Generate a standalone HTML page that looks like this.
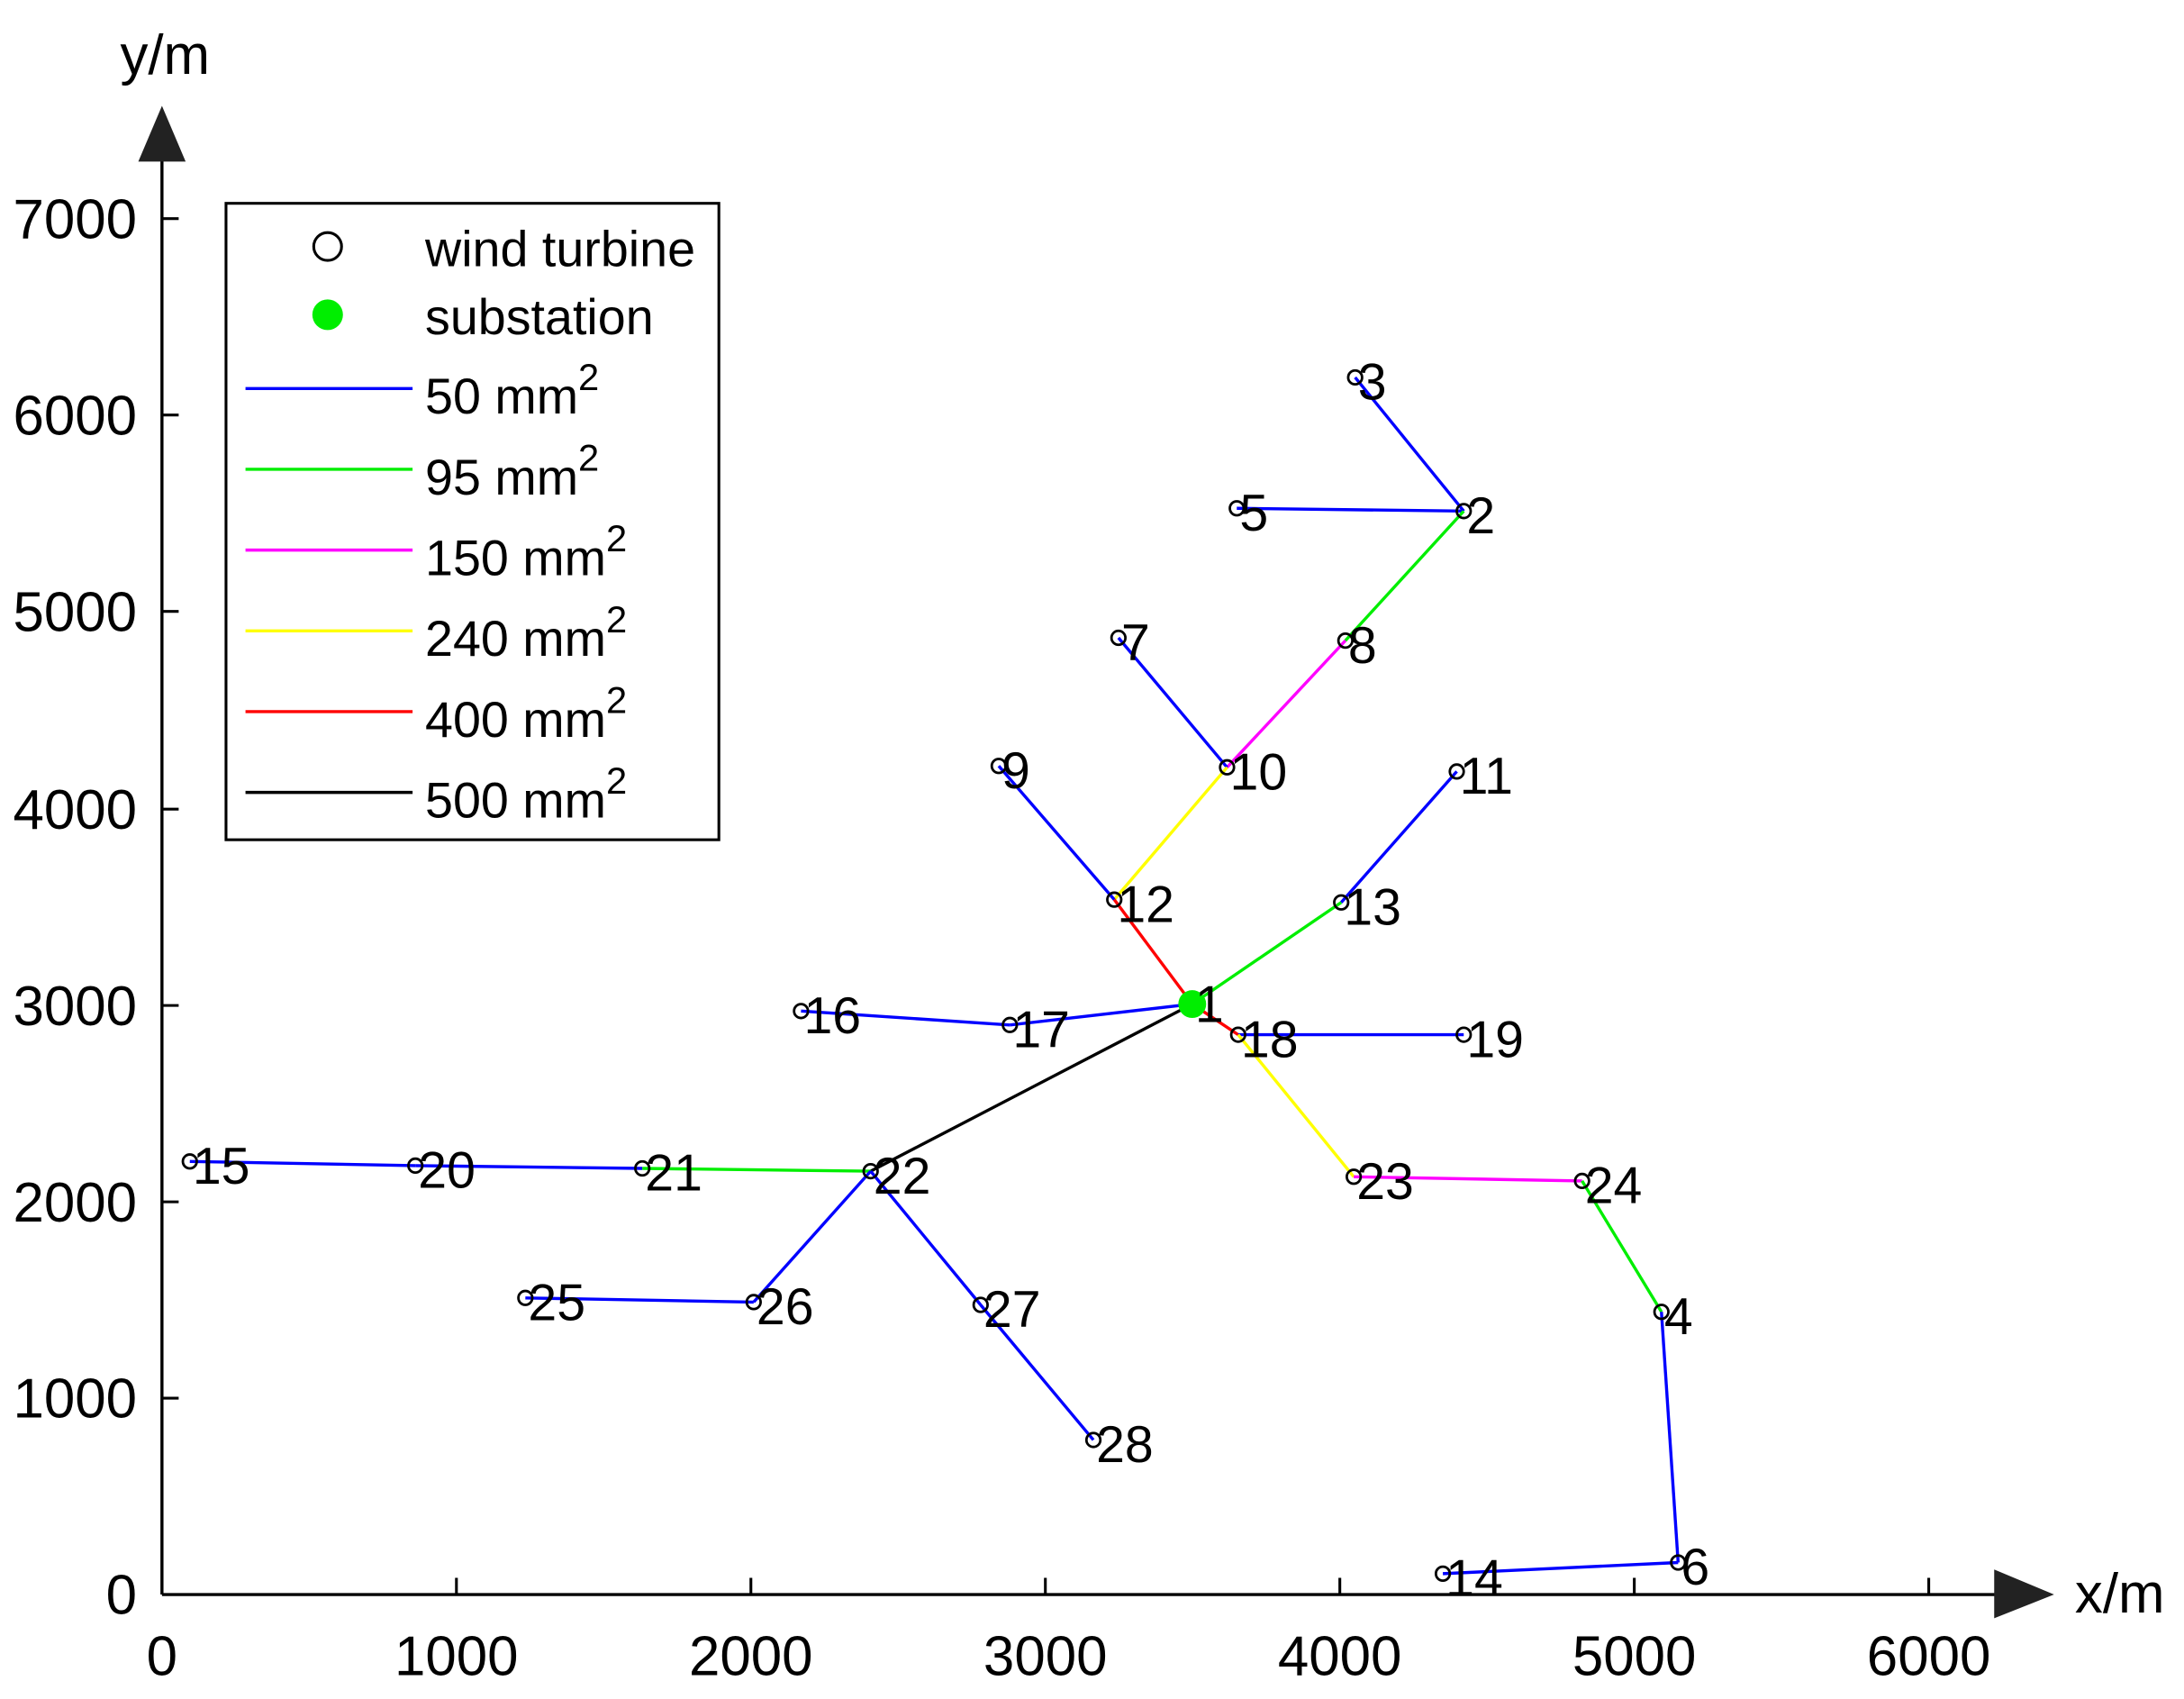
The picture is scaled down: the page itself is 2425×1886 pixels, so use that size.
<!DOCTYPE html>
<html><head><meta charset="utf-8"><style>
html,body{margin:0;padding:0;background:#fff;}
svg{display:block;}
text{font-family:"Liberation Sans",Arial,sans-serif;fill:#000;}
</style></head><body>
<svg width="2425" height="1886" viewBox="0 0 1568 1220" xmlns="http://www.w3.org/2000/svg">
<rect width="1568" height="1220" fill="#fff"/>
<line x1="116" y1="1145" x2="1436" y2="1145" stroke="#000" stroke-width="2.2"/>
<line x1="116" y1="1145" x2="116" y2="112" stroke="#000" stroke-width="2.2"/>
<polygon points="99,116 133,116 116,76" fill="#222"/>
<polygon points="1432,1127 1432,1162 1475,1145" fill="#222"/>
<g stroke="#000" stroke-width="2">
<line x1="327.5" y1="1145" x2="327.5" y2="1133"/>
<line x1="539" y1="1145" x2="539" y2="1133"/>
<line x1="750.5" y1="1145" x2="750.5" y2="1133"/>
<line x1="962" y1="1145" x2="962" y2="1133"/>
<line x1="1173.5" y1="1145" x2="1173.5" y2="1133"/>
<line x1="1385" y1="1145" x2="1385" y2="1133"/>
<line x1="116" y1="1004" x2="128" y2="1004"/>
<line x1="116" y1="863" x2="128" y2="863"/>
<line x1="116" y1="722" x2="128" y2="722"/>
<line x1="116" y1="581" x2="128" y2="581"/>
<line x1="116" y1="439" x2="128" y2="439"/>
<line x1="116" y1="298" x2="128" y2="298"/>
<line x1="116" y1="157" x2="128" y2="157"/>
</g>
<g font-size="40" text-anchor="middle">
<text x="116" y="1203">0</text>
<text x="327.5" y="1203">1000</text>
<text x="539" y="1203">2000</text>
<text x="750.5" y="1203">3000</text>
<text x="962" y="1203">4000</text>
<text x="1173.5" y="1203">5000</text>
<text x="1385" y="1203">6000</text>
</g>
<g font-size="40" text-anchor="end">
<text x="98" y="1159">0</text>
<text x="98" y="1018">1000</text>
<text x="98" y="877">2000</text>
<text x="98" y="736">3000</text>
<text x="98" y="595">4000</text>
<text x="98" y="453">5000</text>
<text x="98" y="312">6000</text>
<text x="98" y="171">7000</text>
</g>
<text x="86" y="53" font-size="40">y/m</text>
<text x="1490" y="1158" font-size="40">x/m</text>
<g stroke-width="2.2" fill="none">
<line x1="973" y1="271" x2="1051" y2="367" stroke="#0000ff"/>
<line x1="888" y1="365" x2="1051" y2="367" stroke="#0000ff"/>
<line x1="1051" y1="367" x2="966" y2="460" stroke="#00ee00"/>
<line x1="966" y1="460" x2="881" y2="551" stroke="#ff00ff"/>
<line x1="803" y1="458" x2="881" y2="551" stroke="#0000ff"/>
<line x1="881" y1="551" x2="800" y2="646" stroke="#ffff00"/>
<line x1="717" y1="550" x2="800" y2="646" stroke="#0000ff"/>
<line x1="800" y1="646" x2="856" y2="721" stroke="#ff0000"/>
<line x1="1046" y1="554" x2="963" y2="648" stroke="#0000ff"/>
<line x1="963" y1="648" x2="856" y2="721" stroke="#00ee00"/>
<line x1="575" y1="726" x2="725" y2="736" stroke="#0000ff"/>
<line x1="725" y1="736" x2="856" y2="721" stroke="#0000ff"/>
<line x1="856" y1="721" x2="889" y2="743" stroke="#ff0000"/>
<line x1="889" y1="743" x2="1051" y2="743" stroke="#0000ff"/>
<line x1="889" y1="743" x2="972" y2="845" stroke="#ffff00"/>
<line x1="972" y1="845" x2="1136" y2="848" stroke="#ff00ff"/>
<line x1="1136" y1="848" x2="1193" y2="942" stroke="#00ee00"/>
<line x1="1193" y1="942" x2="1205" y2="1122" stroke="#0000ff"/>
<line x1="1205" y1="1122" x2="1036" y2="1130" stroke="#0000ff"/>
<line x1="856" y1="721" x2="625" y2="841" stroke="#000"/>
<line x1="136" y1="834" x2="298" y2="837" stroke="#0000ff"/>
<line x1="298" y1="837" x2="461" y2="839" stroke="#0000ff"/>
<line x1="461" y1="839" x2="625" y2="841" stroke="#00ee00"/>
<line x1="625" y1="841" x2="541" y2="935" stroke="#0000ff"/>
<line x1="377" y1="932" x2="541" y2="935" stroke="#0000ff"/>
<line x1="625" y1="841" x2="704" y2="937" stroke="#0000ff"/>
<line x1="704" y1="937" x2="785" y2="1034" stroke="#0000ff"/>
</g>
<g fill="none" stroke="#000" stroke-width="1.8">
<circle cx="1051" cy="367" r="5"/><circle cx="973" cy="271" r="5"/><circle cx="1193" cy="942" r="5"/>
<circle cx="888" cy="365" r="5"/><circle cx="1205" cy="1122" r="5"/><circle cx="803" cy="458" r="5"/>
<circle cx="966" cy="460" r="5"/><circle cx="717" cy="550" r="5"/><circle cx="881" cy="551" r="5"/>
<circle cx="1046" cy="554" r="5"/><circle cx="800" cy="646" r="5"/><circle cx="963" cy="648" r="5"/>
<circle cx="1036" cy="1130" r="5"/><circle cx="136" cy="834" r="5"/><circle cx="575" cy="726" r="5"/>
<circle cx="725" cy="736" r="5"/><circle cx="889" cy="743" r="5"/><circle cx="1051" cy="743" r="5"/>
<circle cx="298" cy="837" r="5"/><circle cx="461" cy="839" r="5"/><circle cx="625" cy="841" r="5"/>
<circle cx="972" cy="845" r="5"/><circle cx="1136" cy="848" r="5"/><circle cx="377" cy="932" r="5"/>
<circle cx="541" cy="935" r="5"/><circle cx="704" cy="937" r="5"/><circle cx="785" cy="1034" r="5"/>
</g>
<circle cx="856" cy="721" r="10" fill="#00ee00"/>
<g font-size="37">
<text x="858" y="734">1</text>
<text x="1053" y="383">2</text>
<text x="975" y="287">3</text>
<text x="1195" y="958">4</text>
<text x="890" y="381">5</text>
<text x="1207" y="1138">6</text>
<text x="805" y="474">7</text>
<text x="968" y="476">8</text>
<text x="719" y="566">9</text>
<text x="883" y="567">10</text>
<text x="1048" y="570">11</text>
<text x="802" y="662">12</text>
<text x="965" y="664">13</text>
<text x="1038" y="1146">14</text>
<text x="138" y="850">15</text>
<text x="577" y="742">16</text>
<text x="727" y="752">17</text>
<text x="891" y="759">18</text>
<text x="1053" y="759">19</text>
<text x="300" y="853">20</text>
<text x="463" y="855">21</text>
<text x="627" y="857">22</text>
<text x="974" y="861">23</text>
<text x="1138" y="864">24</text>
<text x="379" y="948">25</text>
<text x="543" y="951">26</text>
<text x="706" y="953">27</text>
<text x="787" y="1050">28</text>
</g>
<rect x="162" y="146" width="354" height="457" fill="#fff" stroke="#000" stroke-width="2"/>
<circle cx="235" cy="177" r="10" fill="none" stroke="#000" stroke-width="2"/>
<circle cx="235" cy="226" r="11" fill="#00ee00"/>
<g stroke-width="2.2">
<line x1="176" y1="279" x2="296" y2="279" stroke="#0000ff"/>
<line x1="176" y1="337" x2="296" y2="337" stroke="#00ee00"/>
<line x1="176" y1="395" x2="296" y2="395" stroke="#ff00ff"/>
<line x1="176" y1="453" x2="296" y2="453" stroke="#ffff00"/>
<line x1="176" y1="511" x2="296" y2="511" stroke="#ff0000"/>
<line x1="176" y1="569" x2="296" y2="569" stroke="#000"/>
</g>
<g font-size="36">
<text x="305" y="191">wind turbine</text>
<text x="305" y="240">substation</text>
<text x="305" y="297">50 mm<tspan font-size="27" dy="-17">2</tspan></text>
<text x="305" y="355">95 mm<tspan font-size="27" dy="-17">2</tspan></text>
<text x="305" y="413">150 mm<tspan font-size="27" dy="-17">2</tspan></text>
<text x="305" y="471">240 mm<tspan font-size="27" dy="-17">2</tspan></text>
<text x="305" y="529">400 mm<tspan font-size="27" dy="-17">2</tspan></text>
<text x="305" y="587">500 mm<tspan font-size="27" dy="-17">2</tspan></text>
</g>
</svg>
</body></html>
